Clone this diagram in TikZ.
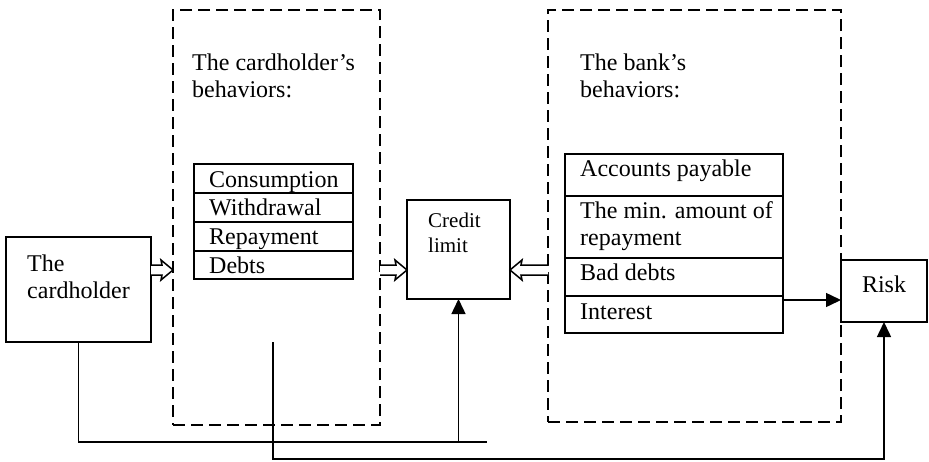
\documentclass[tikz,border=0pt]{standalone}
\usepackage{fontspec}
\setmainfont{Liberation Serif}
\usetikzlibrary{arrows.meta,calc}
\newcommand{\mylines}[1]{\begin{tabular}[t]{@{}l@{}}#1\end{tabular}}
\newcommand{\dblarrow}[2]{%
  \draw[dbl] let \p1=(#1), \p2=(#2), \n1={sign(\x2-\x1)} in
    (\x1,\y1+5pt) -- (\x2-\n1*11pt,\y1+5pt) -- (\x2-\n1*12pt,\y1+10pt) -- (\x2,\y1)
    -- (\x2-\n1*12pt,\y1-10pt) -- (\x2-\n1*11pt,\y1-5pt) -- (\x1,\y1-5pt);}
\begin{document}
\begin{tikzpicture}[x=1pt,y=-1pt,
  box/.style={draw, line width=1.5pt, inner sep=0pt, outer sep=0pt, anchor=north west},
  dbox/.style={draw, line width=1.6pt, dash pattern=on 12pt off 6pt, inner sep=0pt, outer sep=0pt, anchor=north west},
  txt/.style={anchor=base west, inner sep=0pt, font=\fontsize{24}{27.6}\selectfont},
  conn/.style={line width=1.5pt},
  arr/.style={conn, -{Triangle[length=15pt,width=14pt]}},
  dbl/.style={line width=1.5pt, fill=white, line join=miter}
]
\useasboundingbox (0,0) rectangle (929,461);

% dashed groups
\node[dbox, minimum width=207pt, minimum height=415pt] (cbeh) at (173,10) {};
\node[dbox, minimum width=293pt, minimum height=412pt] (bbeh) at (548,10) {};

% main boxes
\node[box, minimum width=145pt, minimum height=105pt] (holder) at (6,237) {};
\node[box, minimum width=103pt, minimum height=99pt] (credit) at (407,200) {};
\node[box, minimum width=86pt, minimum height=62pt, fill=white] (risk) at (841,260) {};

% cardholder table
\node[box, minimum width=159pt, minimum height=29pt] (c1) at (194,164) {};
\node[box, minimum width=159pt, minimum height=29pt] (c2) at (194,193) {};
\node[box, minimum width=159pt, minimum height=29pt] (c3) at (194,222) {};
\node[box, minimum width=159pt, minimum height=28pt] (c4) at (194,251) {};

% bank table
\node[box, minimum width=218pt, minimum height=42pt] (b1) at (565,154) {};
\node[box, minimum width=218pt, minimum height=62pt] (b2) at (565,196) {};
\node[box, minimum width=218pt, minimum height=38pt] (b3) at (565,258) {};
\node[box, minimum width=218pt, minimum height=37pt] (b4) at (565,296) {};

% texts
\node[txt] (tholder) at (27,271) {\mylines{The\\cardholder}};
\node[txt] (tcbeh) at (192,70) {\mylines{The cardholder’s\\behaviors:}};
\node[txt] (tbbeh) at (580,70) {\mylines{The bank’s\\behaviors:}};
\node[txt] (tc1) at (209,187) {Consumption};
\node[txt] (tc2) at (209,215) {Withdrawal};
\node[txt] (tc3) at (209,244) {Repayment};
\node[txt] (tc4) at (209,273) {Debts};
\node[txt] (tb1) at (580,176) {Accounts payable};
\node[txt] (tb2) at (580,218) {\mylines{The min. amount of\\repayment}};
\node[txt] (tb3) at (580,280) {Bad debts};
\node[txt] (tb4) at (580,319) {Interest};
\node[txt, font=\fontsize{21}{25}\selectfont] (tcredit) at (428,227) {\mylines{Credit\\limit}};
\node[anchor=base, inner sep=0pt, font=\fontsize{24}{27.6}\selectfont] (trisk) at (884,292) {Risk};

% helper coordinates
\coordinate (ymid) at (0,270);
\coordinate (yrisk) at (0,300);
\coordinate (yb1) at (0,442);
\coordinate (yb2) at (0,459);
\coordinate (e1) at (487,442);
\coordinate (s2) at (273,342);

% double arrows
\dblarrow{holder.east |- ymid}{cbeh.west |- ymid}
\dblarrow{cbeh.east |- ymid}{credit.west |- ymid}
\dblarrow{bbeh.west |- ymid}{credit.east |- ymid}

% connectors
\draw[arr] (b4.east |- yrisk) -- (risk.west |- yrisk);
\draw[conn] (holder.south) -- (holder.south |- yb1) -- (e1);
\draw[arr] (credit.south |- yb1) -- (credit.south);
\draw[arr] (s2) -- (s2 |- yb2) -- (risk.south |- yb2) -- (risk.south);
\end{tikzpicture}
\end{document}
